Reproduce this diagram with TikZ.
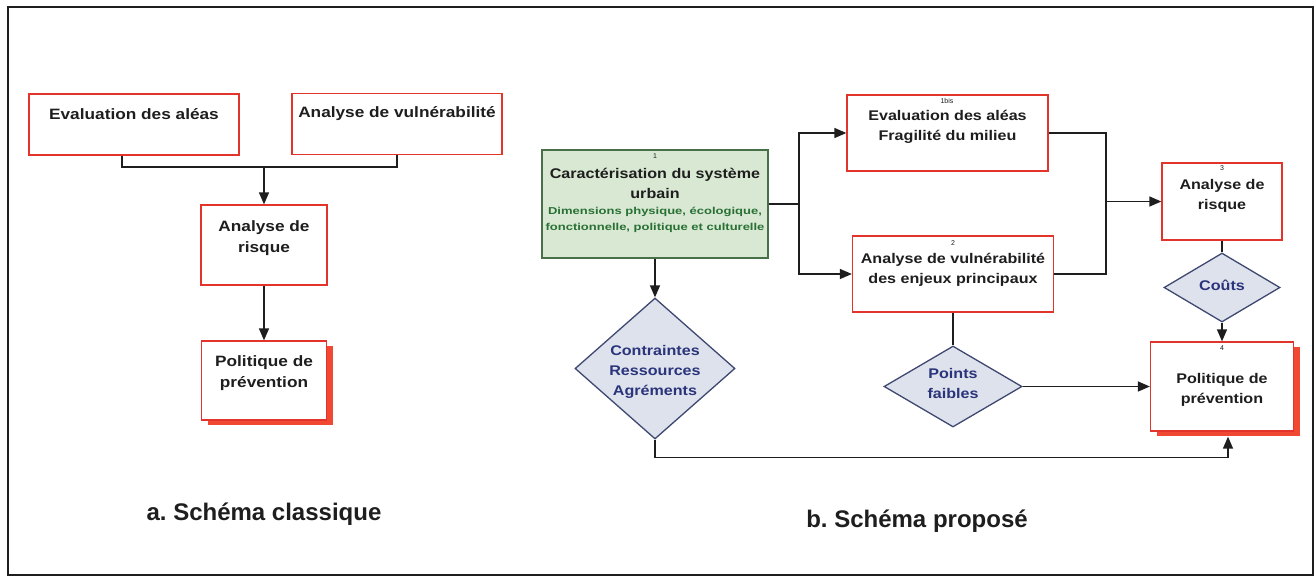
\documentclass[tikz,border=0pt]{standalone}
\usepackage{fontspec}
\setmainfont{Liberation Sans}
\newfontfamily\boxfont{Liberation Sans}[FakeStretch=1.15]
\newfontfamily\smallfont{Liberation Sans}[FakeStretch=1.3]
\usetikzlibrary{arrows.meta, shapes.geometric, shadows}

\definecolor{boxred}{RGB}{226,52,42}
\definecolor{shadowred}{RGB}{240,72,50}
\definecolor{greenfill}{RGB}{216,232,210}
\definecolor{greenline}{RGB}{72,112,72}
\definecolor{greentext}{RGB}{40,112,52}
\definecolor{diafill}{RGB}{222,226,237}
\definecolor{dialine}{RGB}{62,72,112}
\definecolor{diatext}{RGB}{42,52,122}
\definecolor{linec}{RGB}{30,30,30}

\begin{document}
\begin{tikzpicture}[x=1pt, y=-1pt, >={Triangle[length=12pt,width=10pt]},
  conn/.style={draw=linec, line width=1.4pt},
  arr/.style={conn, ->},
  redbox/.style={rectangle, draw=boxred, line width=1.3pt, fill=white, inner sep=0pt},
  shadowbox/.style={drop shadow={shadow xshift=6pt, shadow yshift=-5pt, fill=shadowred, opacity=1}},
  greenbox/.style={rectangle, draw=greenline, line width=1.3pt, fill=greenfill, inner sep=0pt},
  diabox/.style={diamond, draw=dialine, line width=1.3pt, fill=diafill, inner sep=0pt},
  ltxt/.style={inner sep=0pt, align=center, text=linec, font=\boxfont\bfseries\fontsize{15pt}{21pt}\selectfont},
  rtxt/.style={inner sep=0pt, align=center, text=linec, font=\boxfont\bfseries\fontsize{14pt}{20pt}\selectfont},
  gtxt/.style={inner sep=0pt, align=center, text=greentext, font=\smallfont\bfseries\fontsize{10pt}{16pt}\selectfont},
  dtxt/.style={inner sep=0pt, align=center, text=diatext, font=\boxfont\bfseries\fontsize{14pt}{20pt}\selectfont},
  num/.style={inner sep=0pt, text=linec, font=\fontsize{7pt}{8pt}\selectfont},
  titletxt/.style={inner sep=0pt, anchor=base, text=linec, font=\bfseries\fontsize{24pt}{28pt}\selectfont}]
\fill[white] (0,0) rectangle (1316,576);
\useasboundingbox (0,0) rectangle (1316,576);
\draw[linec, line width=1.5pt] (8,7) rectangle (1313,575);

% a. schema classique
\node[redbox, minimum width=210pt, minimum height=61pt] (evalA) at (134,124.5) {};
\node[ltxt] (evalAt) at (134,114) {Evaluation des aléas};
\node[redbox, minimum width=210pt, minimum height=61pt] (vulnA) at (397,124) {};
\node[ltxt] (vulnAt) at (397,114) {Analyse de vulnérabilité};
\node[redbox, minimum width=126pt, minimum height=80pt] (riskA) at (264,245) {};
\node[ltxt] (riskAt) at (264,238.5) {Analyse de\\risque};
\node[redbox, shadowbox, minimum width=125pt, minimum height=79pt] (politA) at (264,380.5) {};
\node[ltxt] (politAt) at (264,373.5) {Politique de\\prévention};

\coordinate (joinA) at (264,167);
\draw[conn] ([xshift=-12pt]evalA.south) |- (joinA) -| (vulnA.south);
\draw[arr] (joinA) -- (riskA.north);
\draw[arr] (riskA.south) -- (politA.north);

\node[titletxt] (titleA) at (264,520) {a.\ Schéma classique};

% b. schema propose
\node[greenbox, minimum width=226pt, minimum height=108pt] (carac) at (655,204) {};
\node[num] (n1) at (655,156) {1};
\node[rtxt] (caracT) at (655,183) {Caractérisation du système\\urbain};
\node[gtxt] (caracS) at (655,220) {Dimensions physique, écologique,\\fonctionnelle, politique et culturelle};

\node[redbox, minimum width=201pt, minimum height=76pt] (evalB) at (947.5,133) {};
\node[num] (n1bis) at (947,101) {1bis};
\node[rtxt] (evalBt) at (947.5,127) {Evaluation des aléas\\Fragilité du milieu};

\node[redbox, minimum width=201pt, minimum height=76pt] (vulnB) at (953,274) {};
\node[num] (n2) at (953,243) {2};
\node[rtxt] (vulnBt) at (953,269.5) {Analyse de vulnérabilité\\des enjeux principaux};

\node[redbox, minimum width=120pt, minimum height=77pt] (riskB) at (1222,201.5) {};
\node[num] (n3) at (1222,168) {3};
\node[rtxt] (riskBt) at (1222,195.5) {Analyse de\\risque};

\node[redbox, shadowbox, minimum width=143pt, minimum height=89pt] (politB) at (1222,386.5) {};
\node[num] (n4) at (1222,348) {4};
\node[rtxt] (politBt) at (1222,390) {Politique de\\prévention};

\node[diabox, minimum width=160pt, minimum height=141pt] (contr) at (655,368.5) {};
\node[dtxt] (contrT) at (655,372) {Contraintes\\Ressources\\Agréments};
\node[diabox, minimum width=116pt, minimum height=69pt] (couts) at (1222,287.5) {};
\node[dtxt] (coutsT) at (1222,285) {Coûts};
\node[diabox, minimum width=138pt, minimum height=81pt] (faibles) at (953,386.5) {};
\node[dtxt] (faiblesT) at (953,383) {Points\\faibles};

\coordinate (splitB) at (799,204);
\coordinate (joinB) at (1106,201.5);
\draw[arr] (carac.south) -- (contr.north);
\draw[conn] (carac.east) -- (splitB);
\draw[arr] (splitB) |- (evalB.west);
\draw[arr] (splitB) |- (vulnB.west);
\draw[conn] (evalB.east) -| (joinB) |- (vulnB.east);
\draw[arr] (joinB) -- (riskB.west);
\draw[conn] (riskB.south) -- (couts.north);
\draw[arr] (couts.south) -- (politB.north);
\draw[conn] (vulnB.south) -- (faibles.north);
\draw[arr] (faibles.east) -- (politB.west);
\draw[arr] (contr.south) -- ++(0,18) -| ([xshift=6pt,yshift=-5pt]politB.south);

\node[titletxt] (titleB) at (917,527) {b.\ Schéma proposé};
\end{tikzpicture}
\end{document}
